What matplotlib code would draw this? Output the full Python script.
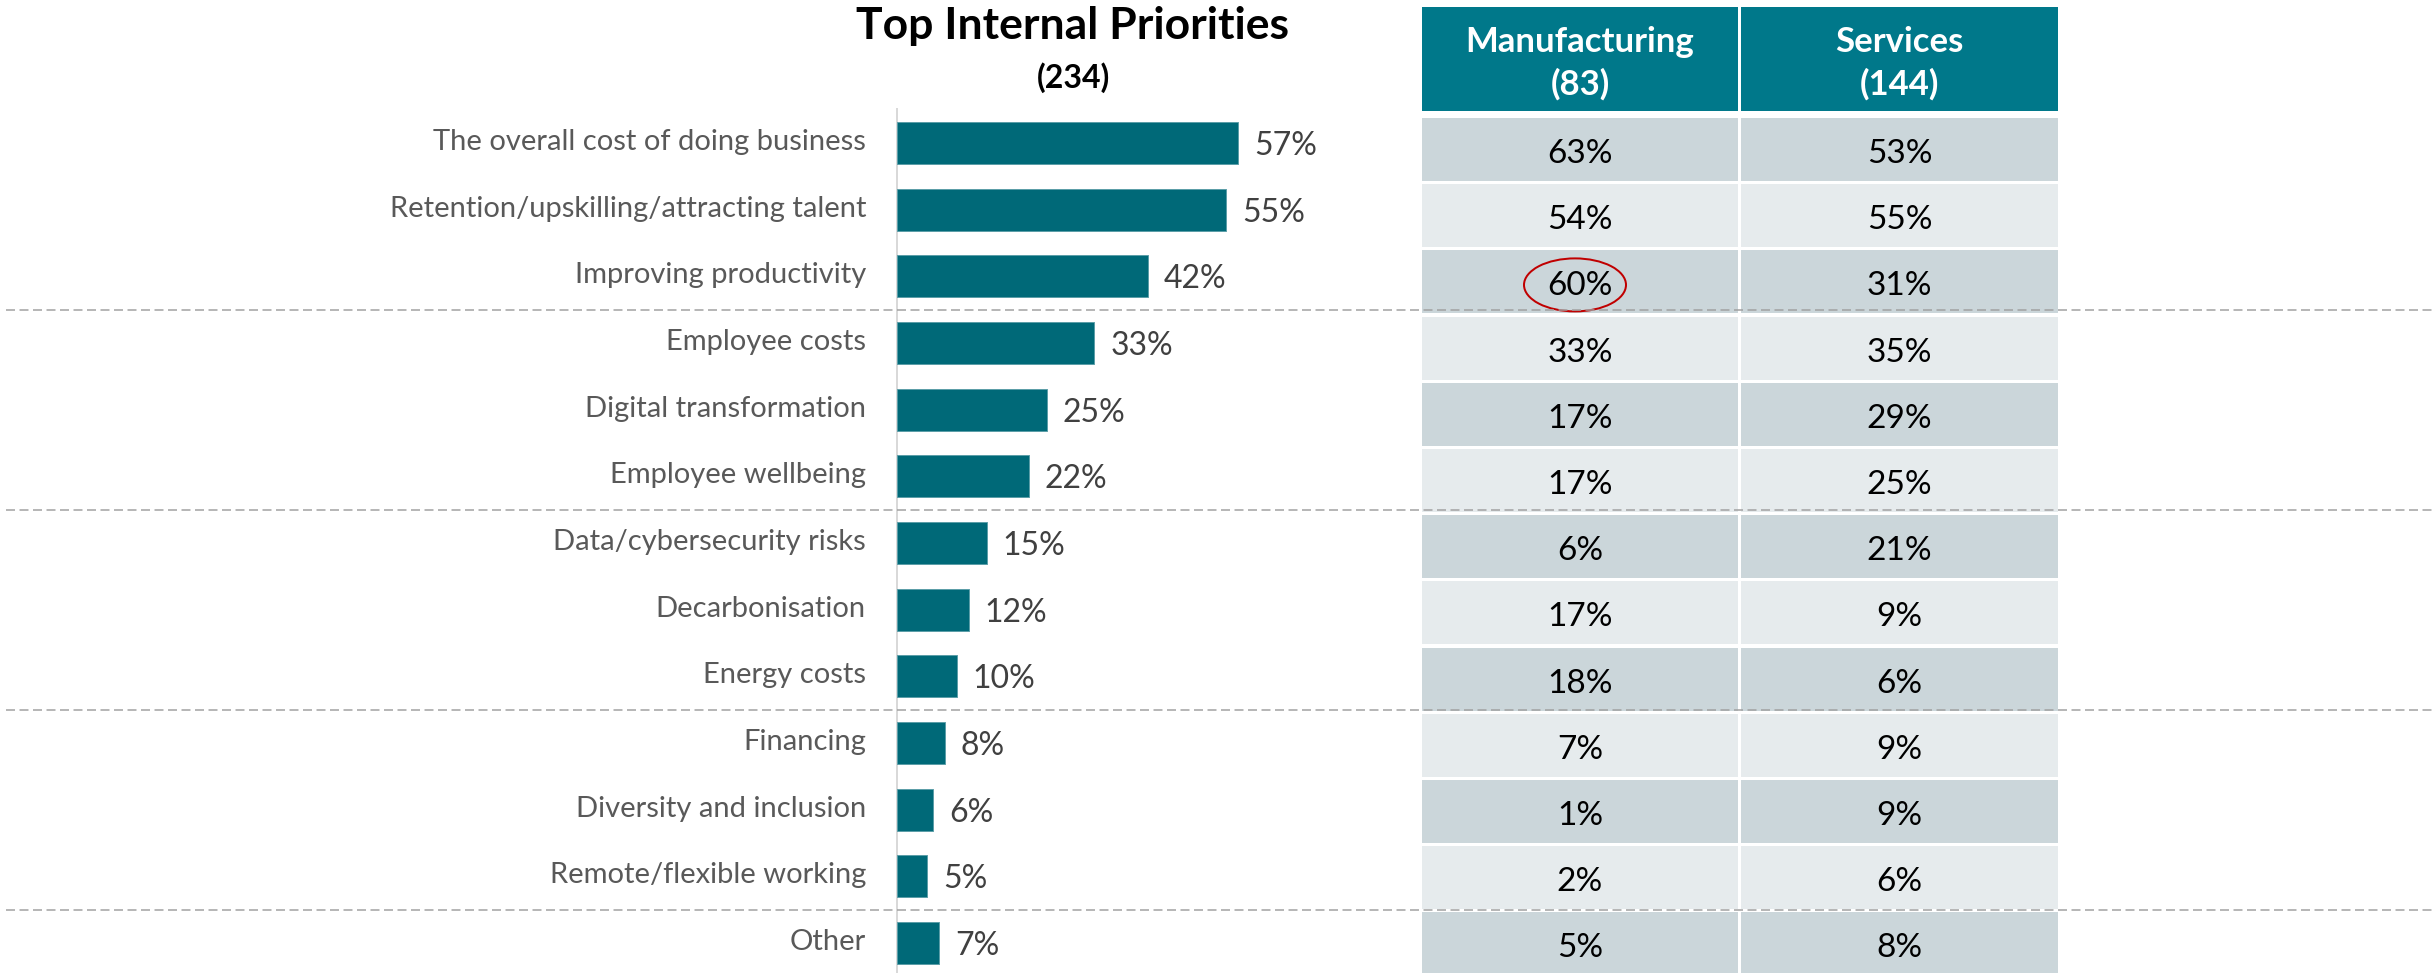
import matplotlib
matplotlib.use("Agg")
import matplotlib.pyplot as plt
from matplotlib.patches import Rectangle, Ellipse
from matplotlib import transforms, font_manager

# ---------------- data ----------------
title = "Top Internal Priorities"
title_n = "(234)"
categories = [
    "The overall cost of doing business",
    "Retention/upskilling/attracting talent",
    "Improving productivity",
    "Employee costs",
    "Digital transformation",
    "Employee wellbeing",
    "Data/cybersecurity risks",
    "Decarbonisation",
    "Energy costs",
    "Financing",
    "Diversity and inclusion",
    "Remote/flexible working",
    "Other",
]
overall = [57, 55, 42, 33, 25, 22, 15, 12, 10, 8, 6, 5, 7]
table_headers = ["Manufacturing", "Services"]
table_ns = ["(83)", "(144)"]
manufacturing = [63, 54, 60, 33, 17, 17, 6, 17, 18, 7, 1, 2, 5]
services = [53, 55, 31, 35, 29, 25, 21, 9, 6, 9, 9, 6, 8]
group_breaks = [2.5, 5.5, 8.5, 11.5]      # dashed separators between groups
highlight = (2, 0)                         # (row, column) circled in red

# ---------------- style ----------------
names = {f.name for f in font_manager.fontManager.ttflist}
FONT = "Lato" if "Lato" in names else "DejaVu Sans"
plt.rcParams["font.family"] = [FONT, "DejaVu Sans"]
plt.rcParams["lines.scale_dashes"] = False

W, H = 2432, 973
DPI = 100
BAR_COLOR = "#006978"
HEAD_COLOR = "#00788A"
ROW_DARK = "#CBD6DA"
ROW_LIGHT = "#E6EBED"
PX = 72.0 / DPI  # points per pixel

fig = plt.figure(figsize=(W / DPI, H / DPI), dpi=DPI)

# ---------------- bar chart ----------------
x0_px, x100_px = 897, 1495
row0_px, pitch_px = 143, 66.67
top_px = 109
ax = fig.add_axes([x0_px / W, 0, (x100_px - x0_px) / W, (H - top_px) / H])
ax.set_xlim(0, 100)
ax.set_ylim((H - row0_px) / pitch_px, (top_px - row0_px) / pitch_px)
ypos = list(range(len(categories)))
ax.barh(ypos, overall, height=0.63, color=BAR_COLOR,
        edgecolor="#5B9EA8", linewidth=0.7, zorder=3)
for sp in ["top", "right", "bottom"]:
    ax.spines[sp].set_visible(False)
ax.spines["left"].set_color("#D9D9D9")
ax.spines["left"].set_linewidth(2 * PX)
ax.set_xticks([])
ax.set_yticks([])
ax.patch.set_alpha(0)

for i, (cat, v) in enumerate(zip(categories, overall)):
    ax.annotate(cat, xy=(0, i), xytext=(-31 * PX, -7 * PX),
                textcoords="offset points", ha="right", va="baseline",
                fontsize=21, color="#595959")
    ax.annotate(f"{v}%", xy=(v, i), xytext=(16 * PX, -12 * PX),
                textcoords="offset points", ha="left", va="baseline",
                fontsize=23, color="#404040")

# ---------------- overlay (title, table, separators) ----------------
ov = fig.add_axes([0, 0, 1, 1])
ov.set_xlim(0, W)
ov.set_ylim(H, 0)
ov.axis("off")
ov.patch.set_alpha(0)

ov.text(1073, 39, title, ha="center", va="baseline", fontsize=32,
        fontweight="bold", color="black")
ov.text(1074, 88, title_n, ha="center", va="baseline", fontsize=23,
        fontweight="bold", color="black")

col_x = [(1422, 1738), (1741, 2058)]
head_top, head_bot = 7, 110.5
row_top0, row_pitch, row_h = 118, 66.2, 63
for c, (xa, xb) in enumerate(col_x):
    ov.add_patch(Rectangle((xa, head_top), xb - xa, head_bot - head_top,
                           facecolor=HEAD_COLOR, edgecolor="none", zorder=1))
    xc = (xa + xb) / 2
    ov.text(xc, 52, table_headers[c], ha="center", va="baseline",
            fontsize=25, fontweight="bold", color="white", zorder=2)
    ov.text(xc, 95, table_ns[c], ha="center", va="baseline",
            fontsize=25, fontweight="bold", color="white", zorder=2)
    vals = manufacturing if c == 0 else services
    for r, v in enumerate(vals):
        yt = row_top0 + r * row_pitch
        ov.add_patch(Rectangle((xa, yt), xb - xa, row_h,
                               facecolor=ROW_DARK if r % 2 == 0 else ROW_LIGHT,
                               edgecolor="none", zorder=1))
        ov.text(xc, yt + 45, f"{v}%", ha="center", va="baseline",
                fontsize=24, color="black", zorder=2)

# highlight ellipse
hr, hc = highlight
hx = (col_x[hc][0] + col_x[hc][1]) / 2 - 5
hy = row_top0 + hr * row_pitch + row_h / 2 + 3
ov.add_patch(Ellipse((hx, hy), 102, 53, facecolor="none",
                     edgecolor="#C00000", linewidth=2 * PX, zorder=4))

# group separators (y in bar-row units)
blend = transforms.blended_transform_factory(ov.transAxes, ax.transData)
for b in group_breaks:
    ov.plot([6 / W, 1.0], [b, b], transform=blend, color="#A0A0A0",
            linewidth=1.5 * PX, linestyle=(0, (9 * PX, 4.5 * PX)), zorder=5,
            clip_on=False)

fig.savefig("out.png", dpi=DPI)
